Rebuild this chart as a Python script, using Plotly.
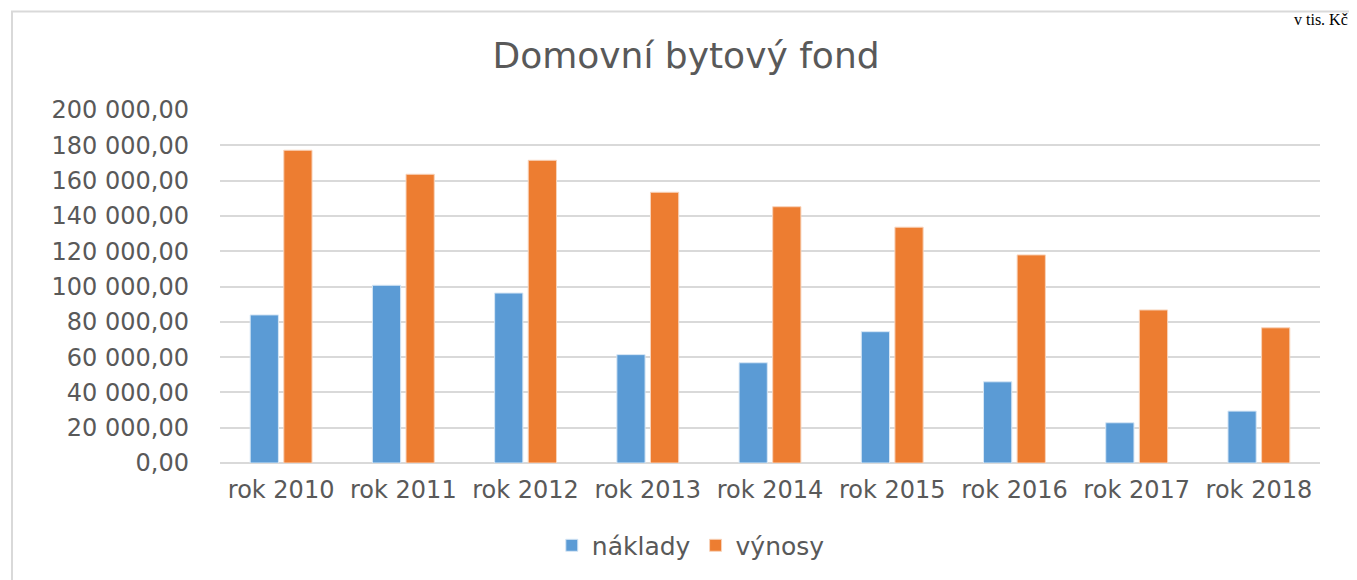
import plotly.graph_objects as go

categories = ["rok 2010", "rok 2011", "rok 2012", "rok 2013", "rok 2014",
              "rok 2015", "rok 2016", "rok 2017", "rok 2018"]
naklady = [83900, 100700, 96300, 61400, 56800, 74400, 46000, 22800, 29400]
vynosy = [177200, 163600, 171500, 153400, 145200, 133600, 117900, 86700, 76600]
tick_vals = [0, 20000, 40000, 60000, 80000, 100000, 120000, 140000, 160000, 180000, 200000]
tick_text = ["0,00", "20 000,00", "40 000,00", "60 000,00", "80 000,00", "100 000,00",
             "120 000,00", "140 000,00", "160 000,00", "180 000,00", "200 000,00"]

FONT = "DejaVu Sans"
GRAY = "#595959"

# page body has an 8px margin; figure is sized/offset to compensate
W, H = 1349, 572
L, T = 212, 102
PW, PH = 1100, 355

fig = go.Figure()
fig.add_trace(go.Bar(name="náklady", x=categories, y=naklady,
                     marker=dict(color="#5B9BD5", line=dict(color="#D6E6F5", width=1))))
fig.add_trace(go.Bar(name="výnosy", x=categories, y=vynosy,
                     marker=dict(color="#ED7D31", line=dict(color="#F8D3BA", width=1))))

fig.update_layout(
    width=W, height=H,
    margin=dict(l=L, r=W - L - PW, t=T, b=H - T - PH),
    paper_bgcolor="white", plot_bgcolor="white",
    barmode="group", bargap=0.45, bargroupgap=0.16,
    font=dict(family=FONT, color=GRAY, size=24),
    title=dict(text="Domovní bytový fond", x=(686 - 8) / W, xanchor="center",
               y=1 - 47 / H, yanchor="middle",
               font=dict(family=FONT, size=36, color=GRAY)),
    showlegend=True,
    legend=dict(orientation="h", x=0.428, xanchor="center",
                y=(465 - 548) / PH, yanchor="middle",
                font=dict(family=FONT, size=25, color=GRAY), itemwidth=30),
    xaxis=dict(showgrid=False, showline=False, ticks="", tickfont=dict(size=24),
               ticklabelstandoff=10),
    yaxis=dict(range=[0, 200000], tickvals=tick_vals, ticktext=tick_text,
               showgrid=True, gridcolor="#D9D9D9", gridwidth=1.5,
               zeroline=True, zerolinecolor="#D9D9D9", zerolinewidth=1.5,
               showline=False, ticks="", tickfont=dict(size=24),
               ticklabelstandoff=30),
)

fig.add_shape(type="rect", xref="paper", yref="paper",
              x0=(12 - 220) / PW, x1=(1380 - 220) / PW,
              y0=(465 - 600) / PH, y1=(465 - 11) / PH,
              line=dict(color="#D9D9D9", width=2), fillcolor="rgba(0,0,0,0)", layer="below")

fig.add_annotation(text="v tis. Kč", xref="paper", yref="paper",
                   x=(1350 - 220) / PW, xanchor="right",
                   y=(465 - 8) / PH, yanchor="top", showarrow=False,
                   font=dict(family="Liberation Serif", size=16, color="black"))

fig.write_html("out.html")
